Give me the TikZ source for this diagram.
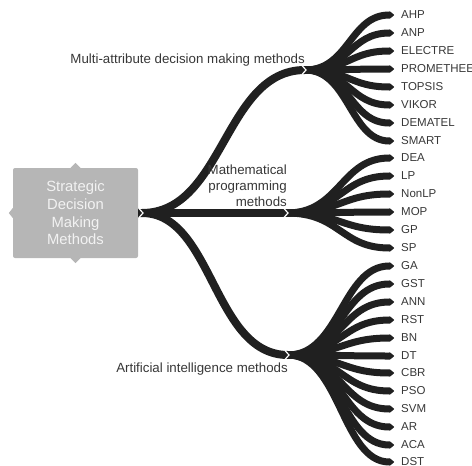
\documentclass[tikz,border=0pt]{standalone}
\usepackage{fontspec}
\setmainfont{Liberation Sans}
\usetikzlibrary{arrows.meta,calc}
\definecolor{BoxGray}{RGB}{182,182,182}
\definecolor{BoxText}{RGB}{242,242,242}
\definecolor{BranchBlack}{RGB}{32,32,32}
\definecolor{LabelGray}{RGB}{55,55,55}

\tikzset{
  trunk/.style={BranchBlack,line width=8pt},
  twig/.style={BranchBlack,line width=7pt,-{Triangle[length=5.5pt,width=8.5pt,round]}},
  leaf/.style={anchor=west,inner xsep=7pt,inner ysep=0pt,text=LabelGray,
    font=\fontsize{11.5}{13}\selectfont},
  grouplabel/.style={inner sep=0pt,text=LabelGray,font=\fontsize{13.3}{16}\selectfont},
  notch/.style={white,line width=1.2pt}
}

\begin{document}
\begin{tikzpicture}[x=1pt,y=-1pt]
  \useasboundingbox (0,0) rectangle (472,466);
  % central box with its four handles
  \node[fill=BoxGray,rounded corners=2pt,minimum width=125pt,minimum height=90pt,
    text=BoxText,align=center,font=\fontsize{14.8}{17.7}\selectfont]
    (sdm) at (75.5,213) {Strategic\\Decision\\Making\\Methods};
  \foreach \side/\bx/\by/\px/\py in {north/5/0/0/-5,south/5/0/0/5,west/0/5/-4/0,east/0/5/4/0}
    \fill[BoxGray] ($(sdm.\side)+(-\bx,-\by)$) -- ($(sdm.\side)+(\px,\py)$)
      -- ($(sdm.\side)+(\bx,\by)$) -- cycle;

  \coordinate (hub) at (142,213);
  \coordinate (mcdm) at (305,70);
  \coordinate (mp) at (287,213);
  \coordinate (ai) at (288,355);

  % main branches
  \draw[trunk] (sdm.east) -- (hub) .. controls (224,213) and (224,70) .. (mcdm);
  \draw[trunk] (sdm.east) -- (mp);
  \draw[trunk] (hub) .. controls (213,213) and (213,355) .. (ai);

  % multi-attribute methods
  \foreach \t/\y in {AHP/15,ANP/33,ELECTRE/51,PROMETHEE/69,TOPSIS/87,VIKOR/105,DEMATEL/123,SMART/141}{
    \node[leaf] (\t) at (394,\y) {\t};
    \draw[twig] (mcdm) .. controls +(44,0) and +(-44,0) .. (\t.west);
  }
  % mathematical programming methods
  \foreach \t/\y in {DEA/158,LP/176,NonLP/194,MOP/212,GP/230,SP/248}{
    \node[leaf] (\t) at (394,\y) {\t};
    \draw[twig] (mp) .. controls +(53,0) and +(-53,0) .. (\t.west);
  }
  % artificial intelligence methods
  \foreach \t/\y in {GA/266,GST/284,ANN/302,RST/320,BN/338,DT/356,CBR/373,PSO/391,SVM/409,AR/427,ACA/445,DST/462}{
    \node[leaf] (\t) at (394,\y) {\t};
    \draw[twig] (ai) .. controls +(52,0) and +(-52,0) .. (\t.west);
  }

  % notches where the branches meet
  \foreach \c in {hub,mcdm,mp,ai}
    \draw[notch] ($(\c)+(-3,-4.5)$) -- ($(\c)+(1,0)$) -- ($(\c)+(-3,4.5)$);

  \node[grouplabel,anchor=base east] (mcdmlabel) at (305,63) {Multi-attribute decision making methods};
  \node[grouplabel,anchor=north east,align=right] (mplabel) at (287,165)
    {Mathematical\\programming\\methods};
  \node[grouplabel,anchor=base east] (ailabel) at (288,372.5) {Artificial intelligence methods};
\end{tikzpicture}
\end{document}
